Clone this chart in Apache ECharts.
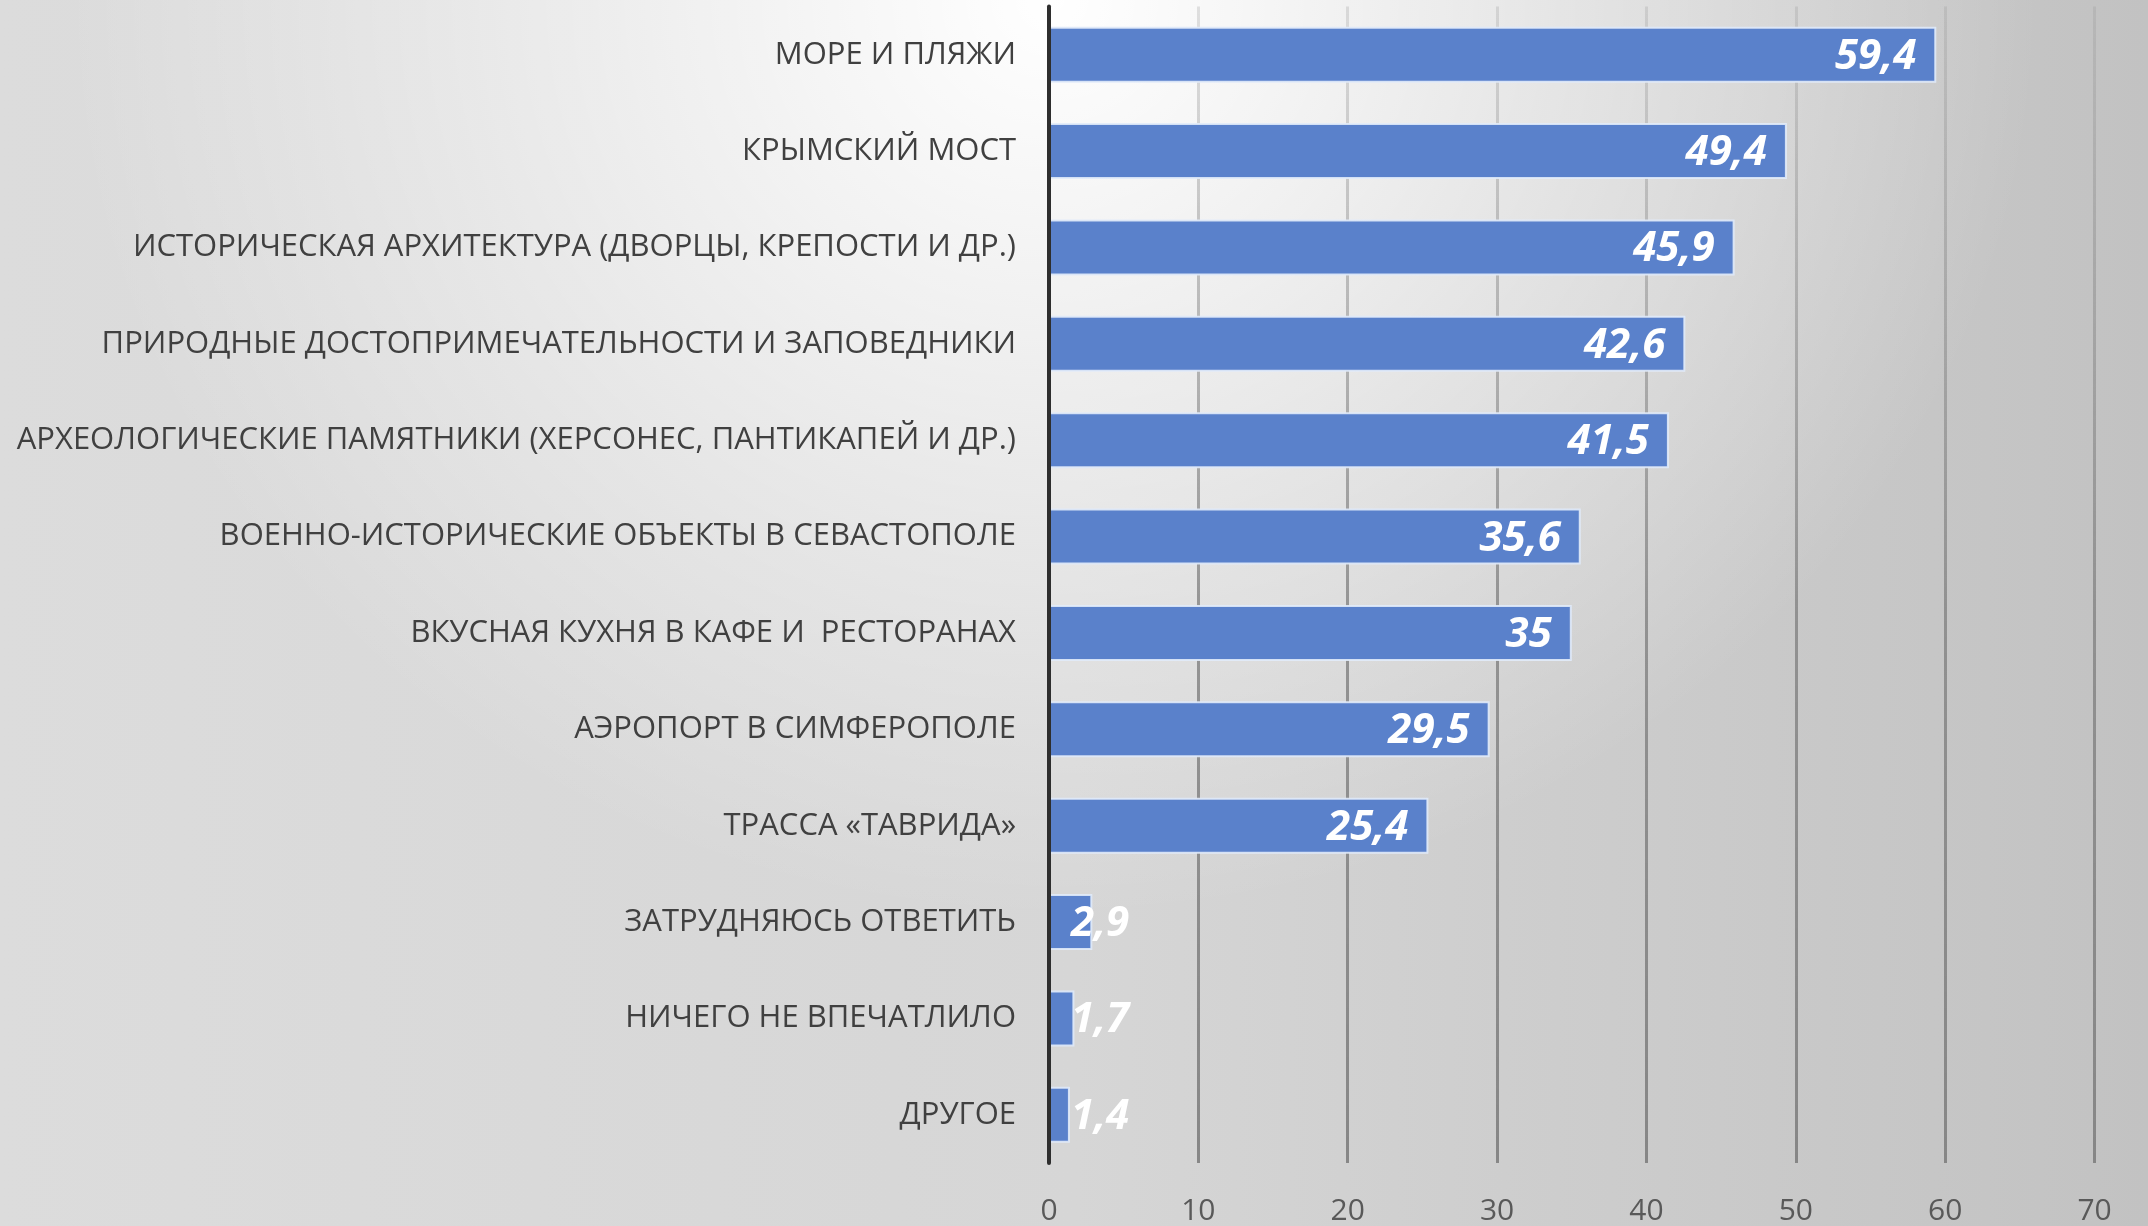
<!DOCTYPE html>
<html>
<head>
<meta charset="utf-8">
<script src="https://cdn.jsdelivr.net/npm/echarts@6/dist/echarts.min.js"></script>
<style>
html,body{margin:0;padding:0;width:2148px;height:1226px;overflow:hidden;}
body{background:
  radial-gradient(ellipse 46% 75% at 49% 0%, rgba(255,255,255,1) 0%, rgba(255,255,255,0.55) 45%, rgba(255,255,255,0) 100%),
  linear-gradient(to right, #dcdcdc 0%, #d6d6d6 50%, #c2c2c2 100%);}
#chart{width:2148px;height:1226px;}
</style>
</head>
<body>
<div id="chart"></div>
<script>
const categories = [
  'МОРЕ И ПЛЯЖИ',
  'КРЫМСКИЙ МОСТ',
  'ИСТОРИЧЕСКАЯ АРХИТЕКТУРА (ДВОРЦЫ, КРЕПОСТИ И ДР.)',
  'ПРИРОДНЫЕ ДОСТОПРИМЕЧАТЕЛЬНОСТИ И ЗАПОВЕДНИКИ',
  'АРХЕОЛОГИЧЕСКИЕ ПАМЯТНИКИ (ХЕРСОНЕС, ПАНТИКАПЕЙ И ДР.)',
  'ВОЕННО-ИСТОРИЧЕСКИЕ ОБЪЕКТЫ В СЕВАСТОПОЛЕ',
  'ВКУСНАЯ КУХНЯ В КАФЕ И  РЕСТОРАНАХ',
  'АЭРОПОРТ В СИМФЕРОПОЛЕ',
  'ТРАССА «ТАВРИДА»',
  'ЗАТРУДНЯЮСЬ ОТВЕТИТЬ',
  'НИЧЕГО НЕ ВПЕЧАТЛИЛО',
  'ДРУГОЕ'
];
const values = [59.4, 49.4, 45.9, 42.6, 41.5, 35.6, 35, 29.5, 25.4, 2.9, 1.7, 1.4];
const xTicks = [0, 10, 20, 30, 40, 50, 60, 70];

const chart = echarts.init(document.getElementById('chart'), null, {renderer: 'canvas'});

const seriesData = values.map(v => {
  const item = {value: v};
  if (v < 5) {
    item.label = {position: 'insideLeft', distance: 22};
  }
  return item;
});

const option = {
  backgroundColor: 'transparent',
  animation: false,
  grid: {left: 1049, right: 53.4, top: 6.5, bottom: 61.5, containLabel: false},
  xAxis: {
    type: 'value',
    min: xTicks[0],
    max: xTicks[xTicks.length - 1],
    interval: 10,
    axisLine: {show: false},
    axisTick: {show: false},
    axisLabel: {
      color: '#595959',
      fontFamily: 'Open Sans',
      fontSize: 30,
      margin: 33
    },
    splitLine: {
      show: true,
      lineStyle: {
        width: 3,
        color: {
          type: 'linear', x: 0, y: 0, x2: 0, y2: 1226, global: true,
          colorStops: [
            {offset: 0, color: 'rgba(150,150,150,0.25)'},
            {offset: 0.5, color: 'rgba(135,135,135,0.85)'},
            {offset: 1, color: '#858585'}
          ]
        }
      }
    }
  },
  yAxis: {
    type: 'category',
    data: categories,
    inverse: true,
    axisLine: {show: true, lineStyle: {color: '#2e2e2e', width: 4}},
    axisTick: {show: false},
    axisLabel: {
      color: '#404040',
      fontFamily: 'Open Sans',
      fontSize: 31,
      margin: 33
    },
    z: 5
  },
  series: [{
    type: 'bar',
    data: seriesData,
    barWidth: 56,
    itemStyle: {
      color: '#5a81cb',
      borderColor: 'rgba(225,235,250,0.9)',
      borderWidth: 2
    },
    label: {
      show: true,
      position: 'insideRight',
      distance: 20,
      offset: [0, 2],
      color: '#ffffff',
      fontFamily: 'Open Sans',
      fontWeight: 'bold',
      fontStyle: 'italic',
      fontSize: 42,
      formatter: p => String(p.value).replace('.', ',')
    }
  }]
};
chart.setOption(option);
</script>
</body>
</html>
